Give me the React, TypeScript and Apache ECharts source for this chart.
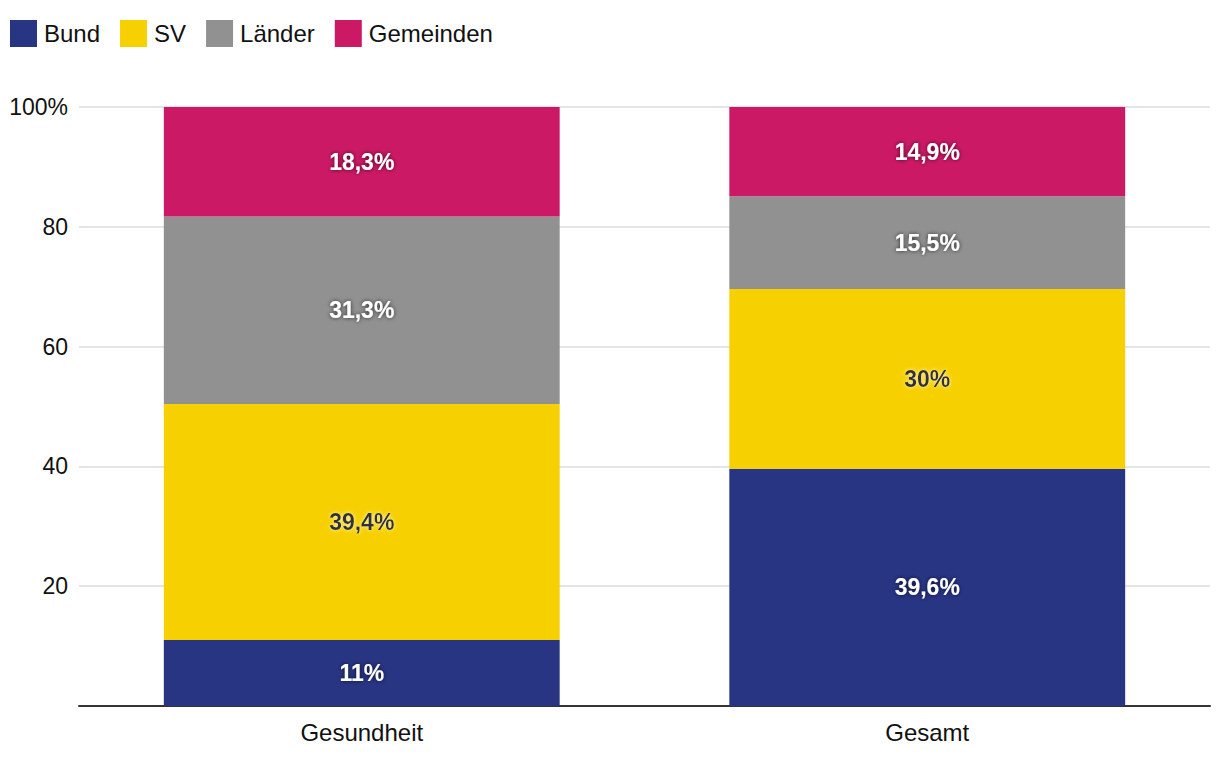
import React, { useEffect, useRef } from "react";
import * as echarts from "echarts";

const categories = ["Gesundheit", "Gesamt"];
const seriesNames = ["Bund", "SV", "Länder", "Gemeinden"];
const bund = [11, 39.6];
const sv = [39.4, 30];
const laender = [31.3, 15.5];
const gemeinden = [18.3, 14.9];
const colors = ["#283583", "#F6D000", "#919191", "#CC1966"];

export default function App() {
  const ref = useRef<HTMLDivElement>(null);
  useEffect(() => {
    const chart = echarts.init(ref.current!, null, { renderer: "svg" });
    const values = [bund, sv, laender, gemeinden];
    const fontFamily = "Liberation Sans, Arial, sans-serif";
    chart.setOption({
      animation: false,
      textStyle: { fontFamily },
      legend: {
        left: 10,
        top: 20,
        padding: 0,
        itemWidth: 27,
        itemHeight: 27,
        itemGap: 20,
        icon: "rect",
        textStyle: { fontSize: 24, color: "#111", fontFamily, padding: [0, 0, 0, 2] },
        data: seriesNames,
      },
      grid: { left: 79, right: 10, top: 107, bottom: 58 },
      xAxis: {
        type: "category",
        data: categories,
        axisLine: { lineStyle: { color: "#333", width: 2 } },
        axisTick: { show: false },
        axisLabel: { fontSize: 24, color: "#111", margin: 14, fontFamily },
      },
      yAxis: {
        type: "value",
        min: 0,
        max: 100,
        interval: 20,
        axisLine: { show: false },
        axisTick: { show: false },
        splitLine: { lineStyle: { color: "#dcdcdc", width: 1.5 } },
        axisLabel: {
          fontSize: 23,
          color: "#111",
          margin: 11,
          fontFamily,
          formatter: (v: number) => (v === 0 ? "" : v === 100 ? "100%" : String(v)),
        },
      },
      series: seriesNames.map((name, i) => ({
        name,
        type: "bar",
        stack: "total",
        barWidth: "70%",
        itemStyle: { color: colors[i] },
        data: values[i],
        label: {
          show: true,
          position: "inside",
          fontSize: 23,
          fontWeight: "bold",
          fontFamily,
          color: i === 1 ? "#333" : "#fff",
          textShadowColor: i === 1 ? "rgba(255,255,255,0.8)" : "rgba(0,0,0,0.7)",
          textShadowBlur: 4,
          formatter: (p: any) => String(p.value).replace(".", ",") + "%",
        },
      })),
    });
    return () => chart.dispose();
  }, []);
  return (
    <div
      ref={ref}
      style={{ position: "fixed", left: 0, top: 0, width: 1220, height: 764, background: "#fff" }}
    />
  );
}
